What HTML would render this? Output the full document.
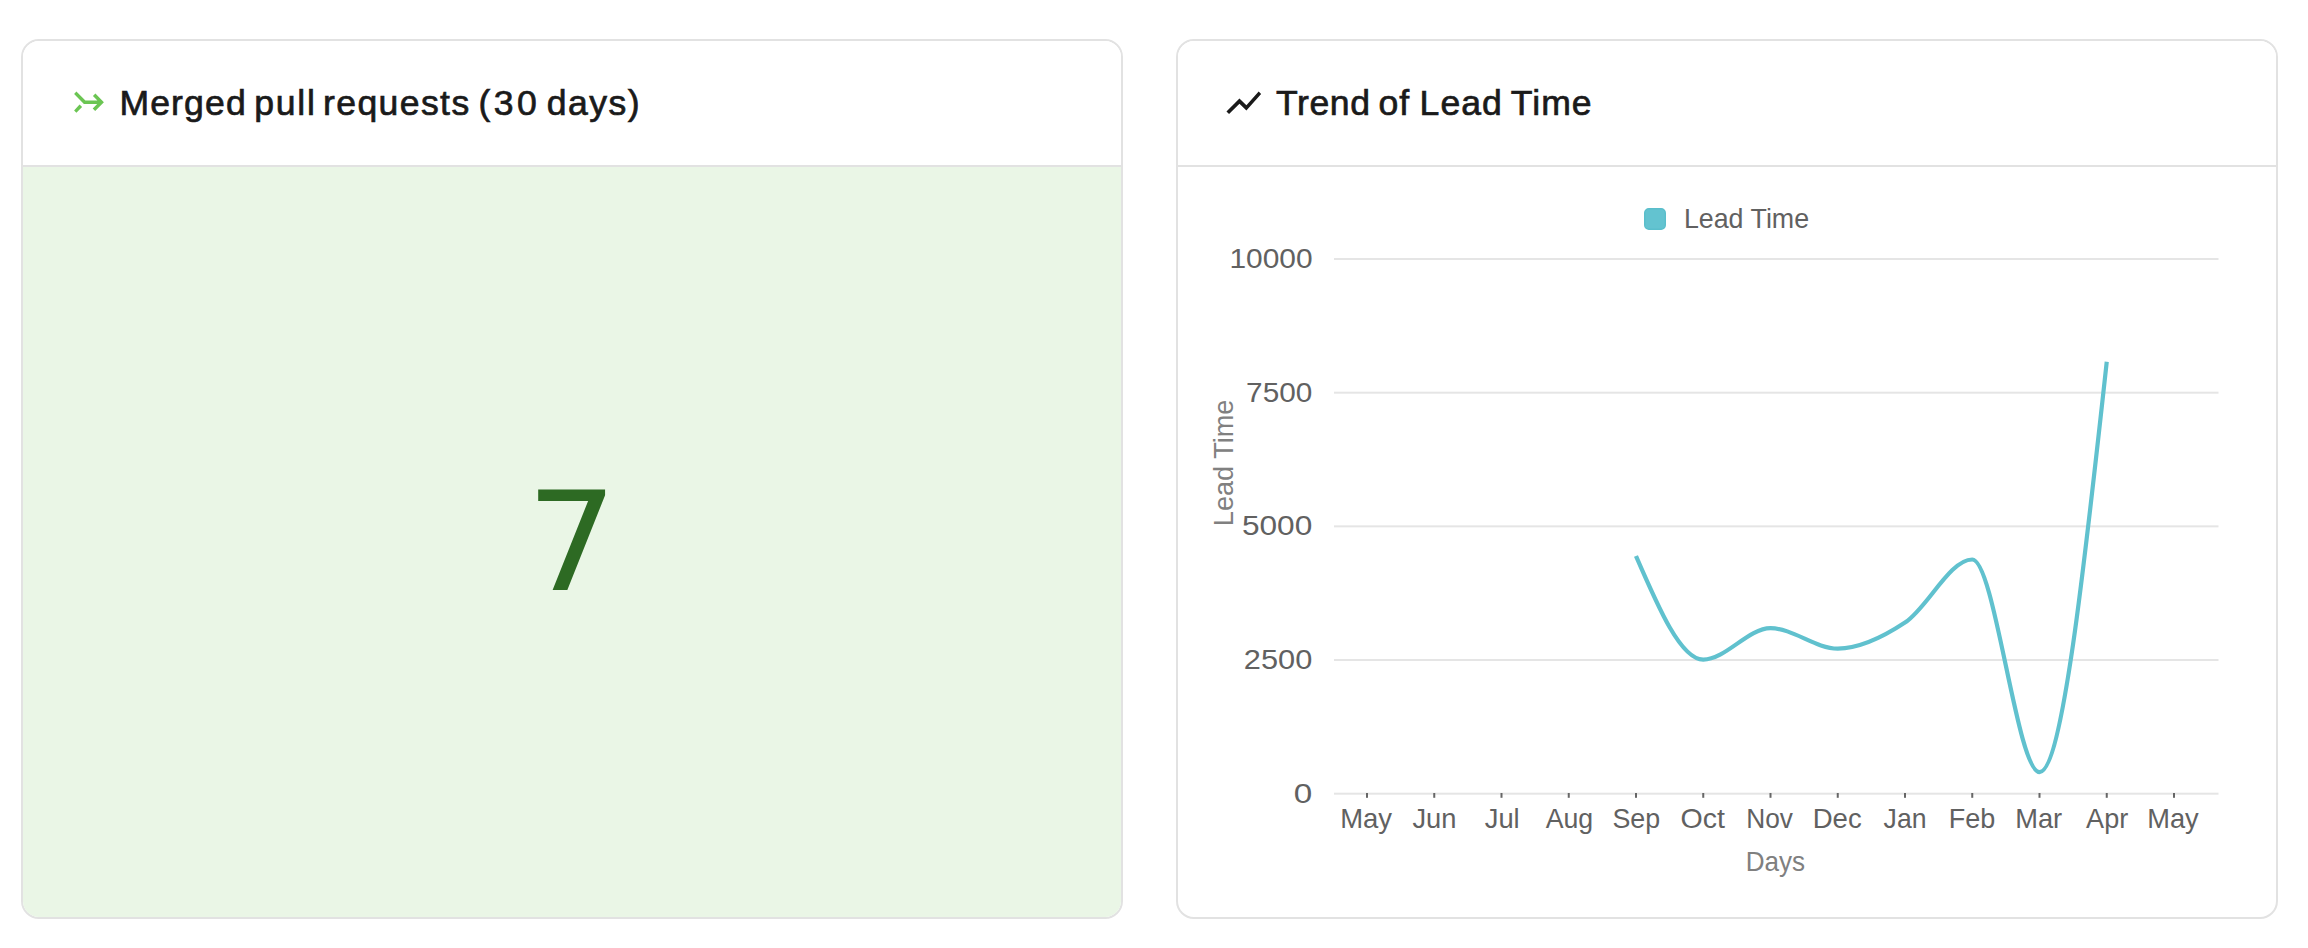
<!DOCTYPE html>
<html lang="en">
<head>
<meta charset="utf-8">
<title>Dashboard</title>
<style>
*{box-sizing:border-box;margin:0;padding:0}
html,body{width:2308px;height:948px;background:#fff;overflow:hidden}
body{font-family:"Liberation Sans",sans-serif;position:relative;color:#1a1a1a}
.card{position:absolute;top:39px;width:1102px;height:880px;border:2px solid #e2e2e2;border-radius:18px;background:#fff;overflow:hidden}
#c1{left:21px}
#c2{left:1176px}
.hd{position:absolute;left:0;top:0;right:0;height:126px;border-bottom:2px solid #e2e2e2;background:#fff}
.hd h2{position:absolute;left:0;top:41.9px;height:40px;font-weight:normal;font-size:35.6px;line-height:40px;white-space:nowrap;color:#1a1a1a;-webkit-text-stroke:0.7px #1a1a1a}
.hd h2 span{position:absolute;top:0}
.body{position:absolute;left:0;right:0;top:126px;bottom:0}
#b1{background:#eaf6e6}
#big{position:absolute;left:0;width:1098px;top:295.9px;transform:scaleX(1.045);transform-origin:548.7px 50%;text-align:center;font-family:"DejaVu Sans","Liberation Sans",sans-serif;font-size:136.5px;line-height:160px;color:#2d6a23}
svg{position:absolute;overflow:visible}
svg text{font-family:"Liberation Sans",sans-serif}
</style>
</head>
<body>
<div class="card" id="c1">
  <div class="hd">
    <svg width="60" height="60" viewBox="60 70 60 60" style="left:37px;top:29px"><path fill="#6bc553" d="M76.4 91.4 L85.4 100.5 L97.4 100.5 L92.95 96.05 L95.4 93.6 L103.9 102.25 L95.2 111 L92.7 108.5 L97.2 104 L83.9 104 L74.1 94.1 Z M79.55 104.4 L82.1 107.1 L76.4 112.8 L74.1 110.4 Z"/></svg>
    <h2><span style="left:96.40px;letter-spacing:1.14px">Merged </span><span style="left:231.20px;letter-spacing:1.77px">pull </span><span style="left:300.00px;letter-spacing:1.39px">requests </span><span style="left:455.60px;letter-spacing:3.35px">(30 </span><span style="left:523.80px;letter-spacing:1.47px">days)</span></h2>
  </div>
  <div class="body" id="b1"><div id="big">7</div></div>
</div>
<div class="card" id="c2">
  <div class="hd">
    <svg width="41.6" height="41.6" viewBox="0 0 24 24" style="left:45.3px;top:41.25px"><path fill="#1a1a1a" d="M3.5 18.49l6-6.01 4 4L22 6.92l-1.41-1.41-7.09 7.97-4-4L2 16.99z"/></svg>
    <h2><span style="left:98.00px;letter-spacing:0.60px">Trend </span><span style="left:200.60px;letter-spacing:0.80px">of </span><span style="left:241.60px;letter-spacing:1.00px">Lead </span><span style="left:332.80px;letter-spacing:1.03px">Time</span></h2>
  </div>
  <div class="body" id="b2">
<svg id="chart" width="1098" height="750" viewBox="1178 167 1098 750" style="left:0;top:0">
<rect x="1334" y="792.70" width="884.5" height="2" fill="#e5e5e5"/>
<rect x="1334" y="659.03" width="884.5" height="2" fill="#e5e5e5"/>
<rect x="1334" y="525.35" width="884.5" height="2" fill="#e5e5e5"/>
<rect x="1334" y="391.68" width="884.5" height="2" fill="#e5e5e5"/>
<rect x="1334" y="258.00" width="884.5" height="2" fill="#e5e5e5"/>
<rect x="1366.00" y="793" width="2" height="4.8" fill="#666"/>
<rect x="1433.25" y="793" width="2" height="4.8" fill="#666"/>
<rect x="1500.50" y="793" width="2" height="4.8" fill="#666"/>
<rect x="1567.75" y="793" width="2" height="4.8" fill="#666"/>
<rect x="1635.00" y="793" width="2" height="4.8" fill="#666"/>
<rect x="1702.25" y="793" width="2" height="4.8" fill="#666"/>
<rect x="1769.50" y="793" width="2" height="4.8" fill="#666"/>
<rect x="1836.75" y="793" width="2" height="4.8" fill="#666"/>
<rect x="1904.00" y="793" width="2" height="4.8" fill="#666"/>
<rect x="1971.25" y="793" width="2" height="4.8" fill="#666"/>
<rect x="2038.50" y="793" width="2" height="4.8" fill="#666"/>
<rect x="2105.75" y="793" width="2" height="4.8" fill="#666"/>
<rect x="2173.00" y="793" width="2" height="4.8" fill="#666"/>
<rect x="1644.7" y="208.7" width="20.6" height="20.6" rx="4.2" fill="#63c3d0" stroke="#5abecb" stroke-width="1.4"/>
<path d="M1636.00 556.00 C1658.42 607.80 1680.83 659.60 1703.25 659.60 C1725.67 659.60 1748.08 628.20 1770.50 628.20 C1792.92 628.20 1815.33 648.60 1837.75 648.60 C1860.17 648.60 1882.58 637.45 1905.00 622.60 C1927.42 607.75 1949.83 559.50 1972.25 559.50 C1994.67 559.50 2017.08 772.10 2039.50 772.10 C2061.92 772.10 2084.33 566.95 2106.75 361.80" fill="none" stroke="#60c1ce" stroke-width="4.2" stroke-linejoin="round"/>
<text id="y10000" x="1229.40" y="268.00" font-size="27.5" fill="#616161" textLength="83.20" lengthAdjust="spacingAndGlyphs">10000</text>
<text id="y7500" x="1246.10" y="401.70" font-size="27.5" fill="#616161" textLength="66.20" lengthAdjust="spacingAndGlyphs">7500</text>
<text id="y5000" x="1241.90" y="535.30" font-size="27.5" fill="#616161" textLength="70.40" lengthAdjust="spacingAndGlyphs">5000</text>
<text id="y2500" x="1243.80" y="669.00" font-size="27.5" fill="#616161" textLength="68.50" lengthAdjust="spacingAndGlyphs">2500</text>
<text id="y0" x="1293.80" y="802.70" font-size="27.5" fill="#616161" textLength="18.50" lengthAdjust="spacingAndGlyphs">0</text>
<text id="legend" x="1683.90" y="227.90" font-size="27.5" fill="#616161" textLength="125.20" lengthAdjust="spacingAndGlyphs">Lead Time</text>
<text id="days" x="1745.70" y="870.80" font-size="27.5" fill="#808080" textLength="59.40" lengthAdjust="spacingAndGlyphs">Days</text>
<text id="m0" x="1340.20" y="828.10" font-size="27.5" fill="#616161" textLength="51.90" lengthAdjust="spacingAndGlyphs">May</text>
<text id="m1" x="1412.40" y="828.10" font-size="27.5" fill="#616161" textLength="44.00" lengthAdjust="spacingAndGlyphs">Jun</text>
<text id="m2" x="1484.70" y="828.10" font-size="27.5" fill="#616161" textLength="35.00" lengthAdjust="spacingAndGlyphs">Jul</text>
<text id="m3" x="1545.70" y="828.10" font-size="27.5" fill="#616161" textLength="47.50" lengthAdjust="spacingAndGlyphs">Aug</text>
<text id="m4" x="1612.40" y="828.10" font-size="27.5" fill="#616161" textLength="47.70" lengthAdjust="spacingAndGlyphs">Sep</text>
<text id="m5" x="1680.50" y="828.10" font-size="27.5" fill="#616161" textLength="44.40" lengthAdjust="spacingAndGlyphs">Oct</text>
<text id="m6" x="1746.30" y="828.10" font-size="27.5" fill="#616161" textLength="46.70" lengthAdjust="spacingAndGlyphs">Nov</text>
<text id="m7" x="1812.70" y="828.10" font-size="27.5" fill="#616161" textLength="49.00" lengthAdjust="spacingAndGlyphs">Dec</text>
<text id="m8" x="1883.60" y="828.10" font-size="27.5" fill="#616161" textLength="42.90" lengthAdjust="spacingAndGlyphs">Jan</text>
<text id="m9" x="1948.80" y="828.10" font-size="27.5" fill="#616161" textLength="46.50" lengthAdjust="spacingAndGlyphs">Feb</text>
<text id="m10" x="2015.20" y="828.10" font-size="27.5" fill="#616161" textLength="47.00" lengthAdjust="spacingAndGlyphs">Mar</text>
<text id="m11" x="2086.10" y="828.10" font-size="27.5" fill="#616161" textLength="42.10" lengthAdjust="spacingAndGlyphs">Apr</text>
<text id="m12" x="2147.20" y="828.10" font-size="27.5" fill="#616161" textLength="51.50" lengthAdjust="spacingAndGlyphs">May</text>
<text id="ytitle" transform="translate(1233 526.20) rotate(-90)" x="0" y="0" font-size="27.5" fill="#808080" textLength="126.60" lengthAdjust="spacingAndGlyphs">Lead Time</text>
</svg>
  </div>
</div>
</body>
</html>
